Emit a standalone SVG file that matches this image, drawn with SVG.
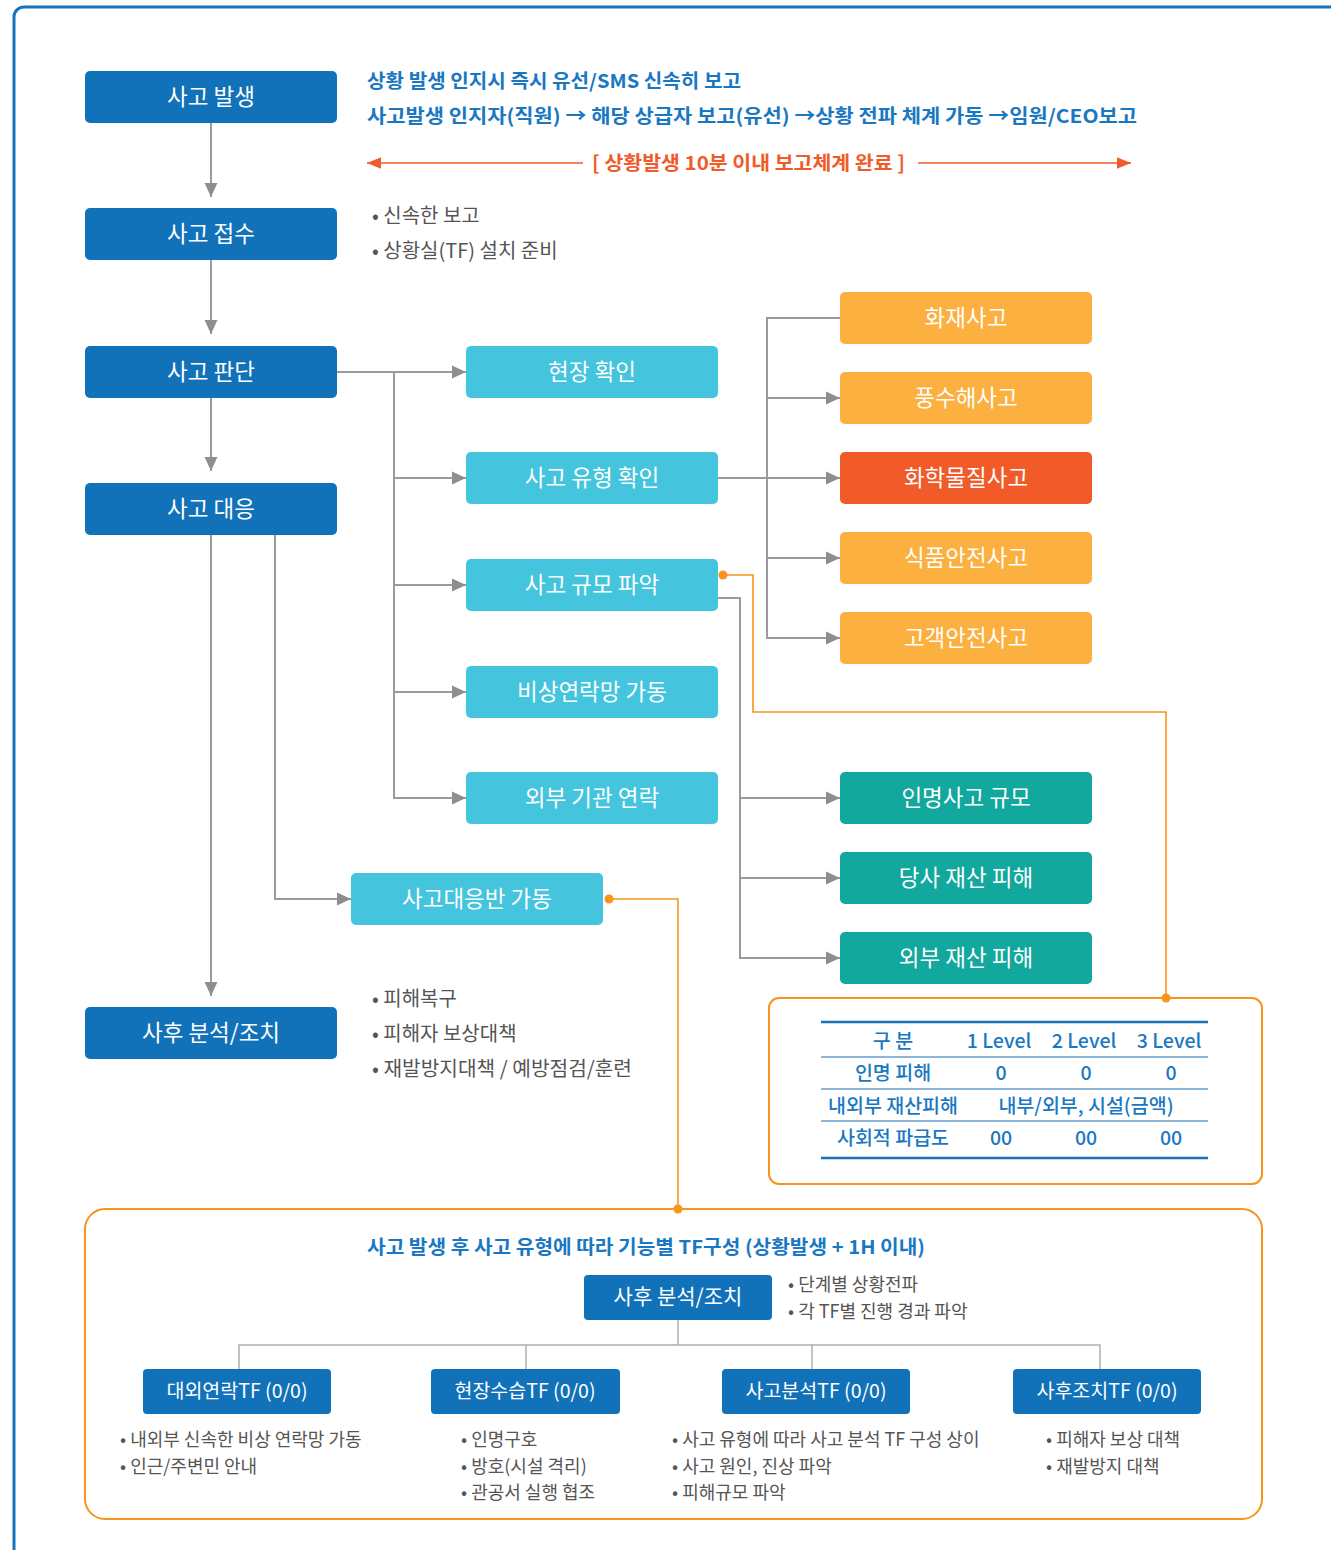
<svg xmlns="http://www.w3.org/2000/svg" width="1331" height="1550" viewBox="0 0 1331 1550">
<style>
text{font-family:"Noto Sans CJK KR","Noto Sans",sans-serif}
.nt{fill:#fff;font-size:22.5px;font-weight:400;text-anchor:middle;dominant-baseline:central}
.nts{fill:#fff;font-size:19.5px;font-weight:400;text-anchor:middle;dominant-baseline:central}
.db{fill:#1172BA}
.cy{fill:#45C4DD}
.or{fill:#FBB040}
.rd{fill:#F15A29}
.tl{fill:#12A89D}
.hb{fill:#1A78C2;font-size:19px;font-weight:700}
.gb{fill:#555;font-size:20px}
.gs{fill:#555;font-size:18px}
.tb{fill:#1A78C2;font-size:19.5px;font-weight:500;text-anchor:middle}
.cn{fill:none;stroke:#9B9B9B;stroke-width:2}
.co{fill:none;stroke:#F7941D;stroke-width:1.6}
.dot{fill:#F7941D}
</style>
<defs>
<marker id="ah" markerUnits="userSpaceOnUse" markerWidth="14" markerHeight="14" viewBox="0 0 12 12" refX="12" refY="6" orient="auto">
<path d="M0,0.5 L12,6 L0,11.5 Z" fill="#8E8E8E"/>
</marker>
<marker id="ahr" markerUnits="userSpaceOnUse" markerWidth="14" markerHeight="14" viewBox="0 0 12 12" refX="12" refY="6" orient="auto">
<path d="M0,1 L12,6 L0,11 Z" fill="#F15A29"/>
</marker>
</defs>
<rect x="14" y="7" width="1340" height="1570" rx="10" fill="#fff" stroke="#1574C0" stroke-width="3"/>

<g id="connectors">
<line class="cn" x1="211" y1="123" x2="211" y2="197" marker-end="url(#ah)"/>
<line class="cn" x1="211" y1="260" x2="211" y2="334" marker-end="url(#ah)"/>
<line class="cn" x1="211" y1="398" x2="211" y2="471" marker-end="url(#ah)"/>
<line class="cn" x1="211" y1="535" x2="211" y2="996" marker-end="url(#ah)"/>
<line class="cn" x1="337" y1="372" x2="466" y2="372" marker-end="url(#ah)"/>
<polyline class="cn" points="394,372 394,798 466,798" marker-end="url(#ah)"/>
<line class="cn" x1="394" y1="478" x2="466" y2="478" marker-end="url(#ah)"/>
<line class="cn" x1="394" y1="585" x2="466" y2="585" marker-end="url(#ah)"/>
<line class="cn" x1="394" y1="692" x2="466" y2="692" marker-end="url(#ah)"/>
<polyline class="cn" points="275,535 275,899 351,899" marker-end="url(#ah)"/>
<line class="cn" x1="718" y1="478" x2="840" y2="478" marker-end="url(#ah)"/>
<polyline class="cn" points="840,318 767,318 767,638 840,638" marker-end="url(#ah)"/>
<line class="cn" x1="767" y1="398" x2="840" y2="398" marker-end="url(#ah)"/>
<line class="cn" x1="767" y1="558" x2="840" y2="558" marker-end="url(#ah)"/>
<polyline class="cn" points="718,598 740,598 740,958 840,958" marker-end="url(#ah)"/>
<line class="cn" x1="740" y1="798" x2="840" y2="798" marker-end="url(#ah)"/>
<line class="cn" x1="740" y1="878" x2="840" y2="878" marker-end="url(#ah)"/>
<polyline class="co" points="723,575 753,575 753,712 1166,712 1166,998"/>
<polyline class="co" points="609,899 678,899 678,1209"/>
<circle class="dot" cx="723" cy="575" r="4.5"/>
<circle class="dot" cx="1166" cy="998" r="4.5"/>
<circle class="dot" cx="609" cy="899" r="4.5"/>
<circle class="dot" cx="678" cy="1209" r="4.5"/>
<polyline fill="none" stroke="#AFAFAF" stroke-width="1.5" points="678,1320 678,1345"/>
<polyline fill="none" stroke="#AFAFAF" stroke-width="1.5" points="239,1369 239,1345 1100,1345 1100,1369"/>
<line stroke="#AFAFAF" stroke-width="1.5" x1="526" y1="1345" x2="526" y2="1369"/>
<line stroke="#AFAFAF" stroke-width="1.5" x1="812" y1="1345" x2="812" y2="1369"/>
</g>

<g id="header-notes">
<text class="hb" x="367" y="88" textLength="374" lengthAdjust="spacingAndGlyphs">상황 발생 인지시 즉시 유선/SMS 신속히 보고</text>
<text class="hb" x="367" y="123" textLength="770" lengthAdjust="spacingAndGlyphs">사고발생 인지자(직원)  →  해당 상급자 보고(유선)  →상황 전파 체계 가동  →임원/CEO보고</text>
<line x1="583" y1="163" x2="367" y2="163" stroke="#F15A29" stroke-width="1.6" marker-end="url(#ahr)"/>
<line x1="918" y1="163" x2="1131" y2="163" stroke="#F15A29" stroke-width="1.6" marker-end="url(#ahr)"/>
<text x="592" y="170" fill="#F15A29" font-size="19" font-weight="700" textLength="313" lengthAdjust="spacingAndGlyphs">[ 상황발생 10분 이내 보고체계 완료 ]</text>
<text class="gb" x="372" y="223">• 신속한 보고</text>
<text class="gb" x="372" y="258">• 상황실(TF) 설치 준비</text>
<text class="gb" x="372" y="1006">• 피해복구</text>
<text class="gb" x="372" y="1041">• 피해자 보상대책</text>
<text class="gb" x="372" y="1076" textLength="260" lengthAdjust="spacingAndGlyphs">• 재발방지대책 / 예방점검/훈련</text>
</g>

<g id="n-occur"><rect class="db" x="85" y="71" width="252" height="52" rx="5"/><text class="nt" x="211" y="95">사고 발생</text></g>
<g id="n-receive"><rect class="db" x="85" y="208" width="252" height="52" rx="5"/><text class="nt" x="211" y="232">사고 접수</text></g>
<g id="n-judge"><rect class="db" x="85" y="346" width="252" height="52" rx="5"/><text class="nt" x="211" y="370">사고 판단</text></g>
<g id="n-respond"><rect class="db" x="85" y="483" width="252" height="52" rx="5"/><text class="nt" x="211" y="507">사고 대응</text></g>
<g id="n-post"><rect class="db" x="85" y="1007" width="252" height="52" rx="5"/><text class="nt" x="211" y="1031">사후 분석/조치</text></g>

<g id="n-site"><rect class="cy" x="466" y="346" width="252" height="52" rx="5"/><text class="nt" x="592" y="370">현장 확인</text></g>
<g id="n-type"><rect class="cy" x="466" y="452" width="252" height="52" rx="5"/><text class="nt" x="592" y="476">사고 유형 확인</text></g>
<g id="n-scale"><rect class="cy" x="466" y="559" width="252" height="52" rx="5"/><text class="nt" x="592" y="583">사고 규모 파악</text></g>
<g id="n-emerg"><rect class="cy" x="466" y="666" width="252" height="52" rx="5"/><text class="nt" x="592" y="690">비상연락망 가동</text></g>
<g id="n-extern"><rect class="cy" x="466" y="772" width="252" height="52" rx="5"/><text class="nt" x="592" y="796">외부 기관 연락</text></g>
<g id="n-team"><rect class="cy" x="351" y="873" width="252" height="52" rx="5"/><text class="nt" x="477" y="897">사고대응반 가동</text></g>

<g id="n-fire"><rect class="or" x="840" y="292" width="252" height="52" rx="5"/><text class="nt" x="966" y="316">화재사고</text></g>
<g id="n-flood"><rect class="or" x="840" y="372" width="252" height="52" rx="5"/><text class="nt" x="966" y="396">풍수해사고</text></g>
<g id="n-chem"><rect class="rd" x="840" y="452" width="252" height="52" rx="5"/><text class="nt" x="966" y="476">화학물질사고</text></g>
<g id="n-food"><rect class="or" x="840" y="532" width="252" height="52" rx="5"/><text class="nt" x="966" y="556">식품안전사고</text></g>
<g id="n-cust"><rect class="or" x="840" y="612" width="252" height="52" rx="5"/><text class="nt" x="966" y="636">고객안전사고</text></g>

<g id="n-human"><rect class="tl" x="840" y="772" width="252" height="52" rx="5"/><text class="nt" x="966" y="796">인명사고 규모</text></g>
<g id="n-own"><rect class="tl" x="840" y="852" width="252" height="52" rx="5"/><text class="nt" x="966" y="876">당사 재산 피해</text></g>
<g id="n-ext"><rect class="tl" x="840" y="932" width="252" height="52" rx="5"/><text class="nt" x="966" y="956">외부 재산 피해</text></g>

<g id="level-table">
<rect x="769" y="998" width="493" height="186" rx="10" fill="none" stroke="#F7941D" stroke-width="2"/>
<line x1="821" y1="1022" x2="1208" y2="1022" stroke="#1A6FB5" stroke-width="2.5"/>
<line x1="821" y1="1057" x2="1208" y2="1057" stroke="#1A6FB5" stroke-width="1.2"/>
<line x1="821" y1="1089" x2="1208" y2="1089" stroke="#1A6FB5" stroke-width="1.2"/>
<line x1="821" y1="1121" x2="1208" y2="1121" stroke="#1A6FB5" stroke-width="1.2"/>
<line x1="821" y1="1158" x2="1208" y2="1158" stroke="#1A6FB5" stroke-width="2.5"/>
<text class="tb" x="893" y="1048">구 분</text>
<text class="tb" x="999" y="1048">1 Level</text>
<text class="tb" x="1084" y="1048">2 Level</text>
<text class="tb" x="1169" y="1048">3 Level</text>
<text class="tb" x="893" y="1080">인명 피해</text>
<text class="tb" x="1001" y="1080">0</text>
<text class="tb" x="1086" y="1080">0</text>
<text class="tb" x="1171" y="1080">0</text>
<text class="tb" x="893" y="1113">내외부 재산피해</text>
<text class="tb" x="1086" y="1113">내부/외부, 시설(금액)</text>
<text class="tb" x="893" y="1145">사회적 파급도</text>
<text class="tb" x="1001" y="1145">00</text>
<text class="tb" x="1086" y="1145">00</text>
<text class="tb" x="1171" y="1145">00</text>
</g>

<g id="tf-box">
<rect x="85" y="1209" width="1177" height="310" rx="20" fill="none" stroke="#F7941D" stroke-width="2"/>
<text class="hb" x="646" y="1254" text-anchor="middle" textLength="558" lengthAdjust="spacingAndGlyphs">사고 발생 후 사고 유형에 따라 기능별 TF구성 (상황발생 + 1H 이내)</text>
<text class="gs" x="788" y="1291">• 단계별 상황전파</text>
<text class="gs" x="788" y="1318">• 각 TF별 진행 경과 파악</text>
</g>
<g id="n-tf-post"><rect class="db" x="584" y="1275" width="188" height="45" rx="4"/><text class="nt" x="678" y="1295" style="font-size:21px">사후 분석/조치</text></g>
<g id="n-tf1"><rect class="db" x="143" y="1369" width="188" height="45" rx="4"/><text class="nts" x="237" y="1389">대외연락TF (0/0)</text></g>
<g id="n-tf2"><rect class="db" x="431" y="1369" width="189" height="45" rx="4"/><text class="nts" x="525" y="1389">현장수습TF (0/0)</text></g>
<g id="n-tf3"><rect class="db" x="722" y="1369" width="188" height="45" rx="4"/><text class="nts" x="816" y="1389">사고분석TF (0/0)</text></g>
<g id="n-tf4"><rect class="db" x="1013" y="1369" width="188" height="45" rx="4"/><text class="nts" x="1107" y="1389">사후조치TF (0/0)</text></g>
<g id="tf-notes">
<text class="gs" x="120" y="1446">• 내외부 신속한 비상 연락망 가동</text>
<text class="gs" x="120" y="1473">• 인근/주변민 안내</text>
<text class="gs" x="461" y="1446">• 인명구호</text>
<text class="gs" x="461" y="1473">• 방호(시설 격리)</text>
<text class="gs" x="461" y="1499">• 관공서 실행 협조</text>
<text class="gs" x="672" y="1446">• 사고 유형에 따라 사고 분석 TF 구성 상이</text>
<text class="gs" x="672" y="1473">• 사고 원인, 진상 파악</text>
<text class="gs" x="672" y="1499">• 피해규모 파악</text>
<text class="gs" x="1046" y="1446">• 피해자 보상 대책</text>
<text class="gs" x="1046" y="1473">• 재발방지 대책</text>
</g>
</svg>
